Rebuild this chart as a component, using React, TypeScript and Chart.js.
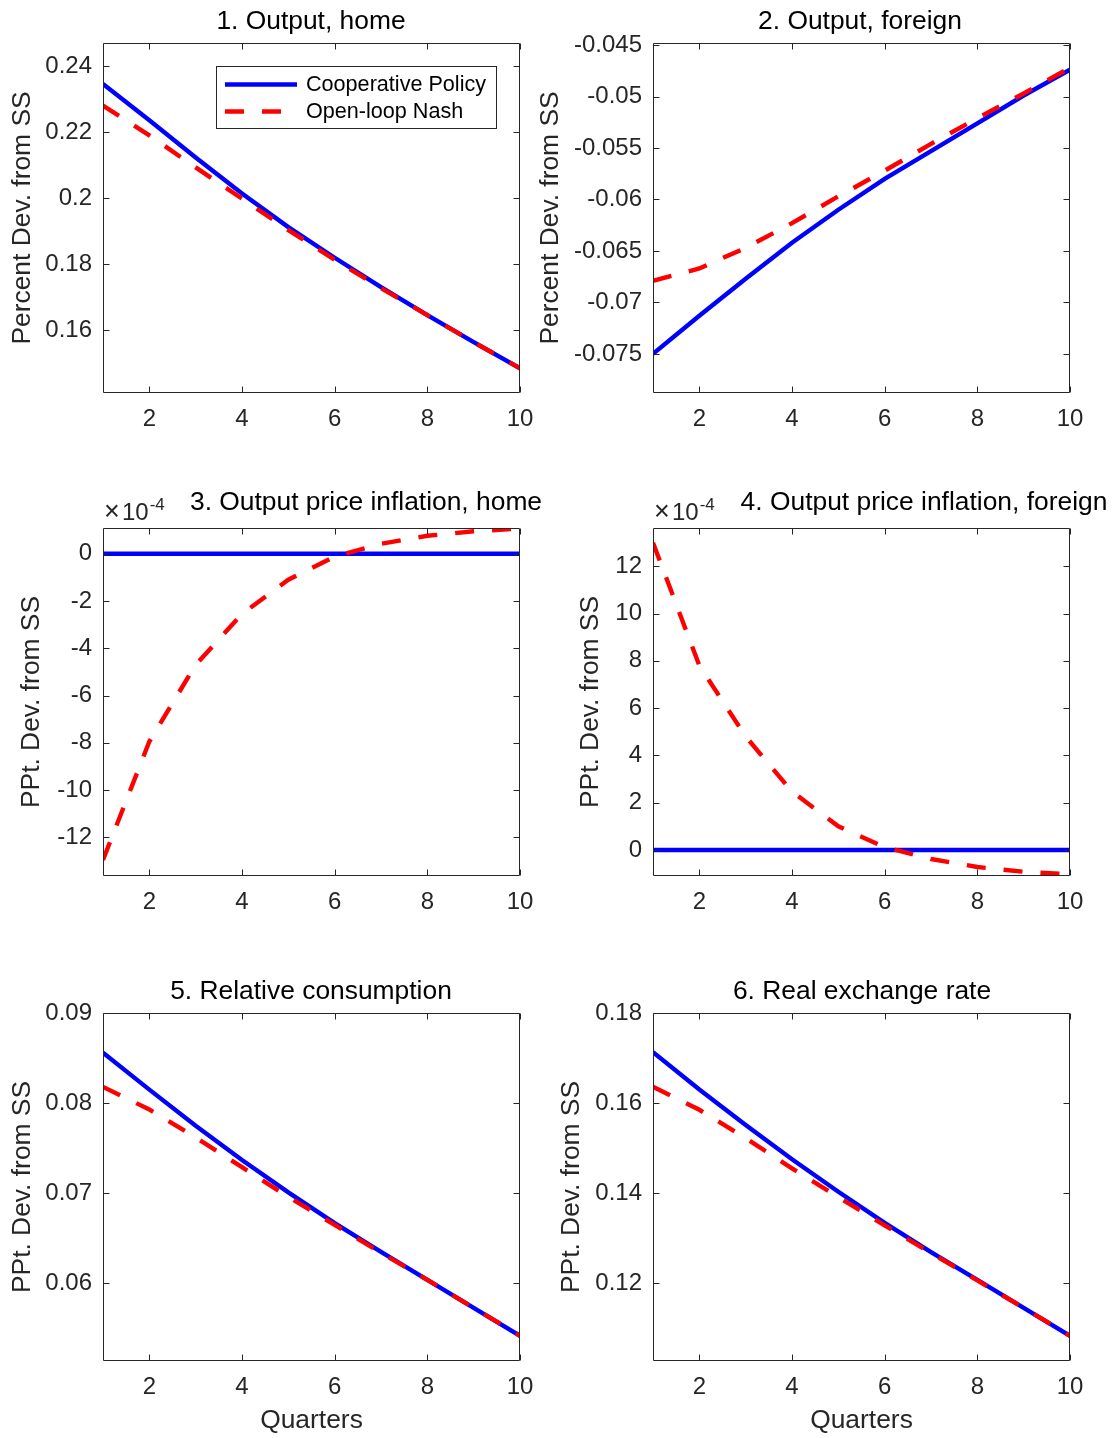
import React, { useEffect, useRef } from "react";
import { Chart, registerables } from "chart.js";

Chart.register(...registerables);

// ---------------- data ----------------
const quarters = [1, 2, 3, 4, 5, 6, 7, 8, 9, 10];
const xTicks = [2, 4, 6, 8, 10];
const xTickLabels = ["2", "4", "6", "8", "10"];

const seriesNames = ["Cooperative Policy", "Open-loop Nash"];

const outputHomeCoop = [0.2346, 0.2236, 0.2123, 0.2014, 0.1912, 0.1819, 0.173, 0.1645, 0.1563, 0.1484];
const outputHomeNash = [0.228, 0.219, 0.2093, 0.1998, 0.1903, 0.1813, 0.1727, 0.1645, 0.1563, 0.1484];

const outputForeignCoop = [-0.075, -0.0713, -0.0677, -0.0642, -0.061, -0.058, -0.0553, -0.0526, -0.0499, -0.0474];
const outputForeignNash = [-0.0679, -0.0667, -0.0647, -0.0623, -0.0597, -0.0572, -0.0546, -0.0521, -0.0497, -0.0472];

const inflationHomeCoop = [0, 0, 0, 0, 0, 0, 0, 0, 0, 0];
const inflationHomeNash = [-0.001296, -0.000795, -0.00047, -0.000255, -0.00011, -0.000012, 0.000042, 0.000076, 0.000095, 0.000107];

const inflationForeignCoop = [0, 0, 0, 0, 0, 0, 0, 0, 0, 0];
const inflationForeignNash = [0.0013, 0.00078, 0.00048, 0.000247, 0.0001, 0.000012, -0.000038, -0.000072, -0.000092, -0.000103];

const relConsCoop = [0.0856, 0.0815, 0.0775, 0.0737, 0.0701, 0.0667, 0.0635, 0.0604, 0.0573, 0.0542];
const relConsNash = [0.0818, 0.0793, 0.0762, 0.0729, 0.0696, 0.0665, 0.0634, 0.0604, 0.0573, 0.0542];

const rerCoop = [0.1713, 0.163, 0.1551, 0.1475, 0.1403, 0.1334, 0.1269, 0.1207, 0.1145, 0.1083];
const rerNash = [0.1636, 0.1585, 0.1522, 0.1455, 0.1391, 0.1328, 0.1267, 0.1206, 0.1145, 0.1083];

const yTicks1 = [0.16, 0.18, 0.2, 0.22, 0.24];
const yTickLabels1 = ["0.16", "0.18", "0.2", "0.22", "0.24"];
const yTicks2 = [-0.075, -0.07, -0.065, -0.06, -0.055, -0.05, -0.045];
const yTickLabels2 = ["-0.075", "-0.07", "-0.065", "-0.06", "-0.055", "-0.05", "-0.045"];
const yTicks3 = [-0.0012, -0.001, -0.0008, -0.0006, -0.0004, -0.0002, 0];
const yTickLabels3 = ["-12", "-10", "-8", "-6", "-4", "-2", "0"];
const yTicks4 = [0, 0.0002, 0.0004, 0.0006, 0.0008, 0.001, 0.0012];
const yTickLabels4 = ["0", "2", "4", "6", "8", "10", "12"];
const yTicks5 = [0.06, 0.07, 0.08, 0.09];
const yTickLabels5 = ["0.06", "0.07", "0.08", "0.09"];
const yTicks6 = [0.12, 0.14, 0.16, 0.18];
const yTickLabels6 = ["0.12", "0.14", "0.16", "0.18"];

const titles = [
  "1. Output, home",
  "2. Output, foreign",
  "3. Output price inflation, home",
  "4. Output price inflation, foreign",
  "5. Relative consumption",
  "6. Real exchange rate",
];
const yLabels = [
  "Percent Dev. from SS",
  "Percent Dev. from SS",
  "PPt. Dev. from SS",
  "PPt. Dev. from SS",
  "PPt. Dev. from SS",
  "PPt. Dev. from SS",
];
const xLabel = "Quarters";
const exponentBase = "10";
const exponentPower = "-4";

// ---------------- layout / style ----------------
const FONT = '"Liberation Sans", Arial, Helvetica, sans-serif';
const AX = "#262626";
const BLUE = "#0000ff";
const RED = "#ff0000";
const TICK_SIZE = 24;
const LABEL_SIZE = 26.4;
const LEGEND_SIZE = 21.6;
const LINE_W = 4.4;

const colLeft = [0, 530];
const colWidth = [550, 584];
const rowTop = [0, 460, 940];
const rowHeight = [460, 480, 498];
const plotLeft = [103, 653];
const plotRight = [520, 1070];
const plotTop = [43, 528, 1013];
const plotBottom = [393, 876, 1361];

type PanelDef = {
  row: number;
  col: number;
  coop: number[];
  nash: number[];
  yMin: number;
  yMax: number;
  yTicks: number[];
  yTickLabels: string[];
  title: string;
  titleX: number; // page coords
  titleBaseline: number;
  yLabel: string;
  yLabelCenter: number; // page x
  exponent: boolean;
  legend: boolean;
};

const panels: PanelDef[] = [
  { row: 0, col: 0, coop: outputHomeCoop, nash: outputHomeNash, yMin: 0.1409, yMax: 0.247, yTicks: yTicks1, yTickLabels: yTickLabels1, title: titles[0], titleX: 311, titleBaseline: 29, yLabel: yLabels[0], yLabelCenter: 23, exponent: false, legend: true },
  { row: 0, col: 1, coop: outputForeignCoop, nash: outputForeignNash, yMin: -0.0788, yMax: -0.0448, yTicks: yTicks2, yTickLabels: yTickLabels2, title: titles[1], titleX: 860, titleBaseline: 29, yLabel: yLabels[1], yLabelCenter: 551, exponent: false, legend: false },
  { row: 1, col: 0, coop: inflationHomeCoop, nash: inflationHomeNash, yMin: -0.001364, yMax: 0.000109, yTicks: yTicks3, yTickLabels: yTickLabels3, title: titles[2], titleX: 366, titleBaseline: 510, yLabel: yLabels[2], yLabelCenter: 32, exponent: true, legend: false },
  { row: 1, col: 1, coop: inflationForeignCoop, nash: inflationForeignNash, yMin: -0.00011, yMax: 0.001362, yTicks: yTicks4, yTickLabels: yTickLabels4, title: titles[3], titleX: 924, titleBaseline: 510, yLabel: yLabels[3], yLabelCenter: 591, exponent: true, legend: false },
  { row: 2, col: 0, coop: relConsCoop, nash: relConsNash, yMin: 0.0514, yMax: 0.09, yTicks: yTicks5, yTickLabels: yTickLabels5, title: titles[4], titleX: 311, titleBaseline: 999, yLabel: yLabels[4], yLabelCenter: 23, exponent: false, legend: false },
  { row: 2, col: 1, coop: rerCoop, nash: rerNash, yMin: 0.1027, yMax: 0.18, yTicks: yTicks6, yTickLabels: yTickLabels6, title: titles[5], titleX: 862, titleBaseline: 999, yLabel: yLabels[5], yLabelCenter: 572, exponent: false, legend: false },
];

function PanelChart({ p }: { p: PanelDef }) {
  const ref = useRef<HTMLCanvasElement | null>(null);
  const cLeft = colLeft[p.col];
  const cTop = rowTop[p.row];
  const cW = colWidth[p.col];
  const cH = rowHeight[p.row];

  useEffect(() => {
    const canvas = ref.current;
    if (!canvas) return;
    const padTop = plotTop[p.row] - cTop;
    const padRight = cLeft + cW - plotRight[p.col];
    const xAxisH = cTop + cH - plotBottom[p.row];
    const yAxisW = plotLeft[p.col] - cLeft;
    const isBottomRow = p.row === 2;

    const matlab = {
      id: "matlabAxes",
      afterDatasetsDraw(chart: any) {
        const { ctx, chartArea: a, scales } = chart;
        const xs = scales.x;
        const ys = scales.y;
        ctx.save();
        ctx.strokeStyle = AX;
        ctx.lineWidth = 1;
        const L = Math.round(a.left) + 0.5;
        const R = Math.round(a.right) - 0.5;
        const T = Math.round(a.top) + 0.5;
        const B = Math.round(a.bottom) - 0.5;
        ctx.beginPath();
        ctx.rect(L, T, R - L, B - T);
        const tl = 6;
        xs.ticks.forEach((t: any) => {
          const px = Math.round(xs.getPixelForValue(t.value)) + 0.5;
          ctx.moveTo(px, B);
          ctx.lineTo(px, B - tl);
          ctx.moveTo(px, T);
          ctx.lineTo(px, T + tl);
        });
        ys.ticks.forEach((t: any) => {
          const py = Math.round(ys.getPixelForValue(t.value)) + 0.5;
          ctx.moveTo(L, py);
          ctx.lineTo(L + tl, py);
          ctx.moveTo(R, py);
          ctx.lineTo(R - tl, py);
        });
        ctx.stroke();
        ctx.restore();
      },
      afterDraw(chart: any) {
        const { ctx, chartArea: a } = chart;
        ctx.save();
        // title
        ctx.fillStyle = "#000000";
        ctx.font = `${LABEL_SIZE}px ${FONT}`;
        ctx.textAlign = "center";
        ctx.textBaseline = "alphabetic";
        ctx.fillText(p.title, p.titleX - cLeft, p.titleBaseline - cTop);
        // exponent label (x10^-4)
        if (p.exponent) {
          ctx.fillStyle = AX;
          ctx.textAlign = "left";
          const bx = a.left + 1;
          const by = a.top - 8;
          ctx.font = `${27}px ${FONT}`;
          ctx.fillText("\u00d7", bx, by);
          ctx.font = `${TICK_SIZE}px ${FONT}`;
          ctx.fillText(exponentBase, bx + 18, by);
          const w = ctx.measureText(exponentBase).width;
          ctx.font = `${17}px ${FONT}`;
          ctx.fillText(exponentPower, bx + 18 + w + 1, by - 10);
        }
        // legend
        if (p.legend) {
          const lx = 216 - cLeft;
          const ly = 66 - cTop;
          const lw = 281;
          const lh = 63;
          ctx.fillStyle = "#ffffff";
          ctx.fillRect(lx, ly, lw, lh);
          ctx.strokeStyle = AX;
          ctx.lineWidth = 1;
          ctx.strokeRect(lx + 0.5, ly + 0.5, lw - 1, lh - 1);
          const ds = chart.data.datasets;
          const rows = [84.5, 111.5];
          ds.forEach((d: any, i: number) => {
            const yy = rows[i] - cTop;
            ctx.save();
            ctx.strokeStyle = d.borderColor;
            ctx.lineWidth = d.borderWidth;
            ctx.setLineDash(d.borderDash || []);
            ctx.beginPath();
            ctx.moveTo(225 - cLeft, yy);
            ctx.lineTo((d.borderDash ? 283 : 297) - cLeft, yy);
            ctx.stroke();
            ctx.restore();
            ctx.fillStyle = "#000000";
            ctx.font = `${LEGEND_SIZE}px ${FONT}`;
            ctx.textAlign = "left";
            ctx.textBaseline = "middle";
            ctx.fillText(d.label, 306 - cLeft, yy + 1);
          });
        }
        ctx.restore();
      },
    };

    const tickFont = { family: FONT, size: TICK_SIZE, lineHeight: 1.2 };
    const labelFont = { family: FONT, size: LABEL_SIZE, lineHeight: 1.2 };

    const chart = new Chart(canvas, {
      type: "line",
      data: {
        datasets: [
          {
            label: seriesNames[0],
            data: quarters.map((q, i) => ({ x: q, y: p.coop[i] })),
            borderColor: BLUE,
            backgroundColor: BLUE,
            borderWidth: LINE_W,
            pointRadius: 0,
            tension: 0,
            fill: false,
            clip: 0,
            order: 2,
          } as any,
          {
            label: seriesNames[1],
            data: quarters.map((q, i) => ({ x: q, y: p.nash[i] })),
            borderColor: RED,
            backgroundColor: RED,
            borderWidth: LINE_W,
            borderDash: [19, 18],
            pointRadius: 0,
            tension: 0,
            fill: false,
            clip: 0,
            order: 1,
          } as any,
        ],
      },
      options: {
        responsive: false,
        animation: false,
        events: [],
        layout: { padding: { top: padTop, right: padRight, left: 0, bottom: 0 } },
        plugins: {
          legend: { display: false },
          tooltip: { enabled: false },
          title: { display: false },
        },
        scales: {
          x: {
            type: "linear",
            min: 1,
            max: 10,
            afterBuildTicks: (s: any) => {
              s.ticks = xTicks.map((v) => ({ value: v }));
            },
            afterFit: (s: any) => {
              s.height = xAxisH;
            },
            grid: { display: false, drawTicks: false },
            border: { display: false },
            ticks: {
              padding: 12,
              color: AX,
              font: tickFont,
              maxRotation: 0,
              autoSkip: false,
              callback: (_v: any, i: number) => xTickLabels[i],
            },
            title: {
              display: isBottomRow,
              text: xLabel,
              color: AX,
              font: labelFont,
              padding: { top: 0, bottom: 1 },
            },
          },
          y: {
            type: "linear",
            min: p.yMin,
            max: p.yMax,
            afterBuildTicks: (s: any) => {
              s.ticks = p.yTicks.map((v) => ({ value: v }));
            },
            afterFit: (s: any) => {
              s.width = yAxisW;
            },
            grid: { display: false, drawTicks: false },
            border: { display: false },
            ticks: {
              padding: 11,
              color: AX,
              font: tickFont,
              autoSkip: false,
              callback: (_v: any, i: number) => p.yTickLabels[i],
            },
            title: {
              display: true,
              text: p.yLabel,
              color: AX,
              font: labelFont,
              padding: { top: p.yLabelCenter - cLeft - (LABEL_SIZE * 1.2) / 2, bottom: 0 },
            },
          },
        },
      },
      plugins: [matlab as any],
    });
    return () => chart.destroy();
  }, []);

  return (
    <canvas
      ref={ref}
      width={cW}
      height={cH}
      style={{ position: "absolute", left: cLeft, top: cTop, width: cW, height: cH, display: "block" }}
    />
  );
}

export default function App() {
  return (
    <div style={{ position: "absolute", left: 0, top: 0, width: 1114, height: 1438, background: "#ffffff", overflow: "hidden" }}>
      {panels.map((p, i) => (
        <PanelChart key={i} p={p} />
      ))}
    </div>
  );
}
